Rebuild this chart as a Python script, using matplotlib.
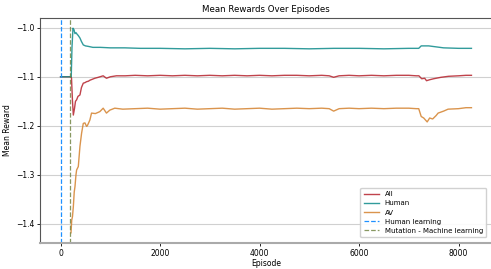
import numpy as np
import matplotlib
matplotlib.use("Agg")
import matplotlib.pyplot as plt

# values
all_ep = [0, 200, 220, 240, 257, 280, 300, 323, 350, 390, 420, 457, 490, 523, 560, 590,
          640, 690, 760, 857, 923, 1000, 1123, 1300, 1500, 1750, 2000, 2250, 2500, 2750,
          3000, 3250, 3500, 3750, 4000, 4250, 4500, 4750, 5000, 5250, 5400, 5490, 5600,
          5800, 6000, 6250, 6500, 6750, 7000, 7150, 7203, 7260, 7320, 7357, 7420, 7500,
          7650, 7800, 8000, 8150, 8260]
all_val = [-1.100, -1.100, -1.102, -1.150, -1.178, -1.165, -1.150, -1.147, -1.140, -1.137,
           -1.122, -1.113, -1.112, -1.110, -1.109, -1.107, -1.105, -1.103, -1.101, -1.098,
           -1.103, -1.100, -1.098, -1.098, -1.097, -1.098, -1.097, -1.098, -1.097, -1.098,
           -1.097, -1.098, -1.097, -1.098, -1.097, -1.098, -1.097, -1.097, -1.098, -1.097,
           -1.098, -1.101, -1.098, -1.097, -1.098, -1.097, -1.098, -1.097, -1.097, -1.098,
           -1.098, -1.104, -1.103, -1.108, -1.106, -1.104, -1.101, -1.099, -1.098, -1.097,
           -1.097]

human_ep = [0, 200, 215, 230, 250, 270, 290, 310, 323, 357, 390, 420, 457, 500, 557, 650,
            800, 1000, 1290, 1600, 2000, 2500, 3000, 3500, 4000, 4500, 5000, 5500, 6000,
            6500, 7000, 7200, 7250, 7400, 7550, 7700, 8000, 8260]
human_val = [-1.100, -1.100, -1.100, -1.040, -1.001, -1.004, -1.012, -1.010, -1.012, -1.016,
             -1.021, -1.028, -1.035, -1.037, -1.038, -1.040, -1.040, -1.041, -1.041, -1.042,
             -1.042, -1.043, -1.042, -1.043, -1.042, -1.042, -1.043, -1.042, -1.042, -1.043,
             -1.042, -1.042, -1.037, -1.037, -1.039, -1.041, -1.042, -1.042]

av_ep = [210, 225, 240, 257, 275, 290, 310, 323, 357, 390, 423, 457, 490, 523, 537, 560,
         590, 623, 700, 790, 857, 923, 990, 1090, 1250, 1500, 1750, 2000, 2250, 2500, 2750,
         3000, 3250, 3500, 3750, 4000, 4250, 4500, 4750, 5000, 5250, 5400, 5490, 5600, 5800,
         6000, 6250, 6500, 6750, 7000, 7150, 7200, 7250, 7300, 7370, 7420, 7480, 7550, 7590,
         7700, 7790, 8000, 8150, 8260]
av_val = [-1.418, -1.392, -1.385, -1.365, -1.335, -1.324, -1.300, -1.290, -1.283, -1.242,
          -1.215, -1.195, -1.194, -1.201, -1.200, -1.195, -1.188, -1.174, -1.175, -1.171,
          -1.164, -1.174, -1.168, -1.164, -1.166, -1.165, -1.164, -1.166, -1.165, -1.164,
          -1.166, -1.165, -1.164, -1.166, -1.165, -1.164, -1.166, -1.165, -1.164, -1.165,
          -1.164, -1.165, -1.170, -1.165, -1.164, -1.165, -1.164, -1.165, -1.164, -1.164,
          -1.165, -1.165, -1.181, -1.184, -1.192, -1.184, -1.186, -1.179, -1.174, -1.170,
          -1.166, -1.165, -1.163, -1.163]

human_learning_ep = 0
mutation_ep = 200

fig = plt.figure(figsize=(4.91, 2.69), dpi=100)
ax = fig.add_axes([40 / 491, 26 / 269, 452 / 491, 225 / 269])

ax.plot(all_ep, all_val, color="#b5222c", lw=1.0, alpha=0.85, label="All")
ax.plot(human_ep, human_val, color="#0d8a8a", lw=1.0, alpha=0.85, label="Human")
ax.plot(av_ep, av_val, color="#d4822e", lw=1.0, alpha=0.85, label="AV")
ax.axvline(human_learning_ep, color="#1e90ff", ls="--", lw=0.9, label="Human learning")
ax.axvline(mutation_ep, color="#6b7f3a", ls="--", lw=0.9, alpha=0.8,
           label="Mutation - Machine learning")

ax.grid(axis="y", color="#d0d0d0", lw=0.8)
ax.set_axisbelow(True)
ax.set_xticks([0, 2000, 4000, 6000, 8000])
ax.set_yticks([-1.0, -1.1, -1.2, -1.3, -1.4])
ax.tick_params(labelsize=5.5, length=2, width=0.6, pad=2)
for s in ax.spines.values():
    s.set_color("#555555")
    s.set_linewidth(0.8)
ax.spines["bottom"].set_color("#aaaaaa")
ax.spines["bottom"].set_linewidth(1.5)
ax.spines["right"].set_visible(False)

ax.set_title("Mean Rewards Over Episodes", fontsize=6.2, pad=4)
ax.set_xlabel("Episode", fontsize=5.5, labelpad=1)
ax.set_ylabel("Mean Reward", fontsize=5.5, labelpad=3)

leg = ax.legend(loc="lower right", bbox_to_anchor=(0.995, 0.01), fontsize=5,
                handlelength=2.2, borderpad=0.5, labelspacing=0.45, framealpha=0.9)

fig.savefig("out.png", dpi=100)
